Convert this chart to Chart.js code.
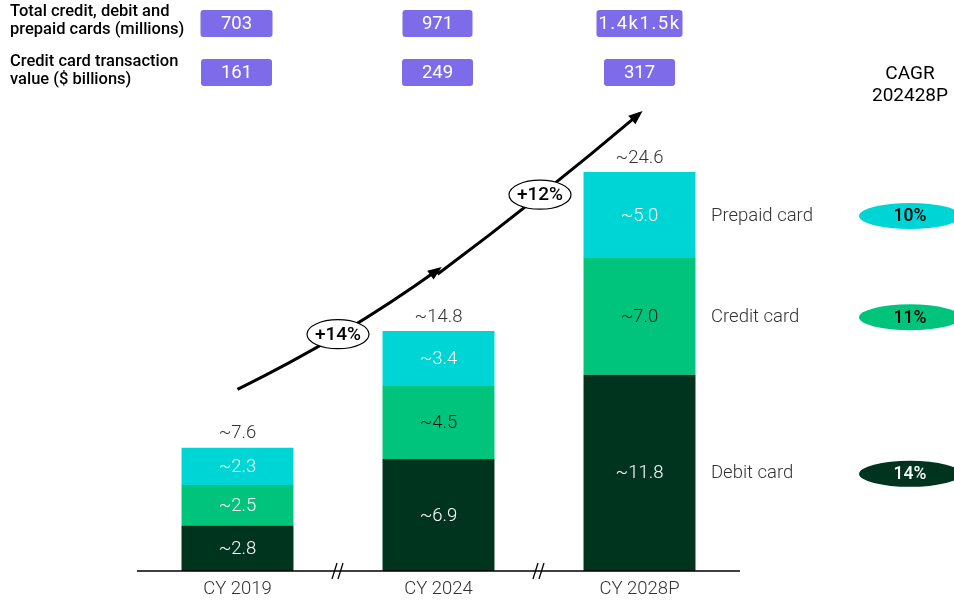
<!DOCTYPE html>
<html>
<head>
<meta charset="utf-8">
<script src="https://cdn.jsdelivr.net/npm/chart.js@4"></script>
<style>
  body { margin: 0; background: #fff; }
  canvas { display: block; }
</style>
</head>
<body>
<canvas id="chart" width="954" height="603"></canvas>
<script>
// data
const years = ['CY 2019', 'CY 2024', 'CY 2028P'];
const debit = [2.8, 6.9, 12.1];
const credit = [2.5, 4.5, 7.2];
const prepaid = [2.3, 3.4, 5.3];
const debitText = ['~2.8', '~6.9', '~11.8'];
const creditText = ['~2.5', '~4.5', '~7.0'];
const prepaidText = ['~2.3', '~3.4', '~5.0'];
const totalText = ['~7.6', '~14.8', '~24.6'];
const cardsRow = ['703', '971', '1.4k1.5k'];
const valueRow = ['161', '249', '317'];
const growth = ['+14%', '+12%'];
const cagr = ['14%', '11%', '10%']; // debit, credit, prepaid
const seriesNames = ['Debit card', 'Credit card', 'Prepaid card'];

const DARK = '#00341f';
const GREEN = '#00c47b';
const CYAN = '#00d5d5';
const PURPLE = '#7d6be9';
const FONT = 'Roboto, "Liberation Sans", sans-serif';

function ellipse(ctx, cx, cy, rx, ry, fill, stroke) {
  ctx.beginPath();
  ctx.ellipse(cx, cy, rx, ry, 0, 0, Math.PI * 2);
  if (fill) { ctx.fillStyle = fill; ctx.fill(); }
  if (stroke) { ctx.strokeStyle = stroke; ctx.lineWidth = 1.2; ctx.stroke(); }
}

function arrow(ctx, x1, y1, cx, cy, x2, y2) {
  ctx.beginPath();
  ctx.moveTo(x1, y1);
  ctx.quadraticCurveTo(cx, cy, x2, y2);
  ctx.strokeStyle = '#000';
  ctx.lineWidth = 3;
  ctx.stroke();
  const a = Math.atan2(y2 - cy, x2 - cx);
  ctx.beginPath();
  ctx.moveTo(x2 + 4 * Math.cos(a), y2 + 4 * Math.sin(a));
  ctx.lineTo(x2 - 10 * Math.cos(a) + 5.5 * Math.sin(a), y2 - 10 * Math.sin(a) - 5.5 * Math.cos(a));
  ctx.lineTo(x2 - 10 * Math.cos(a) - 5.5 * Math.sin(a), y2 - 10 * Math.sin(a) + 5.5 * Math.cos(a));
  ctx.closePath();
  ctx.fillStyle = '#000';
  ctx.fill();
}

function pill(ctx, cx, cy, w, h, txt, spacing) {
  ctx.fillStyle = PURPLE;
  ctx.beginPath();
  ctx.roundRect(cx - w / 2, cy - h / 2, w, h, 3);
  ctx.fill();
  ctx.fillStyle = '#fff';
  ctx.font = '18.5px ' + FONT;
  ctx.letterSpacing = spacing || '0px';
  ctx.fillText(txt, cx, cy + 1);
  ctx.letterSpacing = '0px';
}

const extras = {
  id: 'extras',
  afterDatasetsDraw(chart) {
    const ctx = chart.ctx;
    const xs = chart.scales.x;
    const ys = chart.scales.y;
    const area = chart.chartArea;
    ctx.save();
    ctx.textAlign = 'center';
    ctx.textBaseline = 'middle';

    // segment labels
    const sets = [[debit, debitText, ['#fff', '#fff', '#fff']],
                  [credit, creditText, ['#fff', '#1a1a1a', '#1a1a1a']],
                  [prepaid, prepaidText, ['#fff', '#fff', '#fff']]];
    years.forEach((y, i) => {
      let base = 0;
      ctx.font = '300 18.5px ' + FONT;
      sets.forEach(([vals, txt, cols]) => {
        const mid = ys.getPixelForValue(base + vals[i] / 2);
        ctx.fillStyle = cols[i];
        ctx.fillText(txt[i], xs.getPixelForValue(i), mid + 1);
        base += vals[i];
      });
      ctx.fillStyle = '#333';
      ctx.fillText(totalText[i], xs.getPixelForValue(i), ys.getPixelForValue(base) - 14);
      ctx.fillText(y, xs.getPixelForValue(i), area.bottom + 18);
    });

    // axis line
    ctx.beginPath();
    ctx.moveTo(area.left, area.bottom);
    ctx.lineTo(area.right, area.bottom);
    ctx.strokeStyle = '#000';
    ctx.lineWidth = 1.6;
    ctx.stroke();

    // break marks between the years
    ctx.lineWidth = 1.3;
    for (let i = 0; i < 2; i++) {
      const bx = (xs.getPixelForValue(i) + xs.getPixelForValue(i + 1)) / 2;
      [-3, 3].forEach(d => {
        ctx.beginPath();
        ctx.moveTo(bx + d - 3, area.bottom + 8);
        ctx.lineTo(bx + d + 2, area.bottom - 8);
        ctx.stroke();
      });
    }

    // growth arrows
    const x0 = xs.getPixelForValue(0), x1 = xs.getPixelForValue(1), x2 = xs.getPixelForValue(2);
    const yA = ys.getPixelForValue(11.2), yB = ys.getPixelForValue(18.6), yC = ys.getPixelForValue(28.2);
    arrow(ctx, x0, yA, (x0 + x1) / 2 + 6, (yA + yB) / 2 + 8, x1, yB);
    const yB2 = yB + 5;
    arrow(ctx, x1 - 1, yB2, (x1 + x2) / 2 + 2, (yB2 + yC) / 2 + 3, x2, yC);
    const ovals = [[(x0 + x1) / 2, ys.getPixelForValue(14.6)], [(x1 + x2) / 2 + 1, ys.getPixelForValue(23.2)]];
    ctx.font = '500 19px ' + FONT;
    ovals.forEach(([ox, oy], i) => {
      ellipse(ctx, ox, oy, 31, 14.5, '#fff', '#000');
      ctx.fillStyle = '#000';
      ctx.fillText(growth[i], ox, oy + 1);
    });

    // series names and CAGR ovals
    const fills = [DARK, GREEN, CYAN];
    const txtCols = ['#fff', '#000', '#000'];
    let base = 0;
    [debit, credit, prepaid].forEach((vals, k) => {
      const mid = ys.getPixelForValue(base + vals[2] / 2) + 1;
      base += vals[2];
      ctx.textAlign = 'left';
      ctx.font = '300 18.5px ' + FONT;
      ctx.fillStyle = '#333';
      ctx.fillText(seriesNames[k], area.right - 29, mid);
      ellipse(ctx, 910, mid, 51, 13, fills[k], null);
      ctx.textAlign = 'center';
      ctx.font = '500 17.5px ' + FONT;
      ctx.fillStyle = txtCols[k];
      ctx.fillText(cagr[k], 910, mid + 1);
    });

    // CAGR header
    ctx.font = '19px ' + FONT;
    ctx.fillStyle = '#000';
    ctx.fillText('CAGR', 910, 74);
    ctx.fillText('202428P', 910, 96);

    // top rows
    ctx.textAlign = 'left';
    ctx.font = '500 16.5px ' + FONT;
    ctx.fillText('Total credit, debit and', 10, 12);
    ctx.fillText('prepaid cards (millions)', 10, 30);
    ctx.fillText('Credit card transaction', 10, 62);
    ctx.fillText('value ($ billions)', 10, 80);
    ctx.textAlign = 'center';
    const w1 = [72, 70, 86];
    years.forEach((y, i) => {
      const cx = xs.getPixelForValue(i) - 1 + (i === 2 ? 1 : 0);
      pill(ctx, cx, 23.5, w1[i], 27, cardsRow[i], i === 2 ? '1.5px' : '0px');
      pill(ctx, cx, 72.5, 71, 27, valueRow[i]);
    });
    ctx.restore();
  }
};

new Chart(document.getElementById('chart'), {
  type: 'bar',
  data: {
    labels: years,
    datasets: [
      { label: seriesNames[0], data: debit, backgroundColor: DARK },
      { label: seriesNames[1], data: credit, backgroundColor: GREEN },
      { label: seriesNames[2], data: prepaid, backgroundColor: CYAN }
    ]
  },
  options: {
    responsive: false,
    animation: false,
    layout: { padding: { left: 137, right: 214, top: 84.4, bottom: 32 } },
    datasets: { bar: { barPercentage: 1, categoryPercentage: 0.557, borderWidth: 0 } },
    scales: {
      x: { stacked: true, display: false },
      y: { stacked: true, display: false, min: 0, max: 30 }
    },
    plugins: { legend: { display: false }, tooltip: { enabled: false } }
  },
  plugins: [extras]
});
</script>
</body>
</html>
